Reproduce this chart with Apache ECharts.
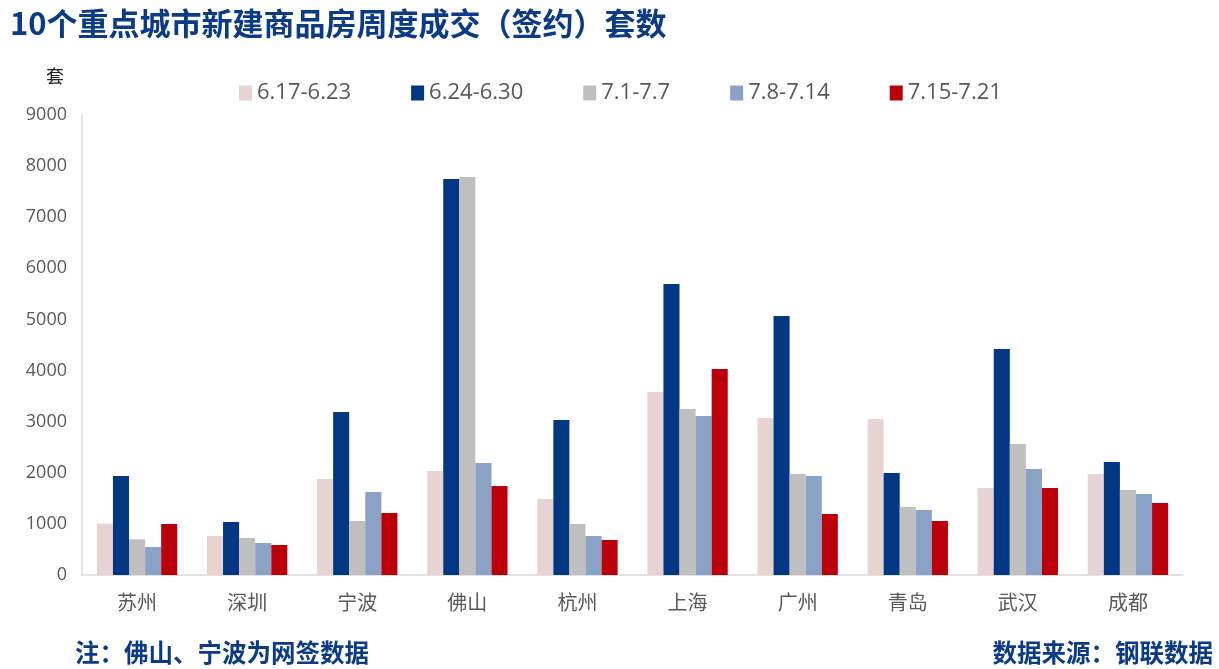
<!DOCTYPE html>
<html><head><meta charset="utf-8">
<script src="https://cdn.jsdelivr.net/npm/echarts@6/dist/echarts.min.js"></script>
<style>html,body{margin:0;padding:0;background:#fff}#c{width:1219px;height:669px}</style>
</head><body><div id="c"></div>
<script>
const categories = ['苏州','深圳','宁波','佛山','杭州','上海','广州','青岛','武汉','成都'];
const seriesNames = ['6.17-6.23','6.24-6.30','7.1-7.7','7.8-7.14','7.15-7.21'];
const w0617 = [1010, 763, 1878, 2035, 1487, 3581, 3072, 3053, 1703, 1976];
const w0624 = [1937, 1037, 3190, 7750, 3033, 5695, 5068, 1996, 4423, 2211];
const w0701 = [698, 724, 1057, 7789, 998, 3249, 1976, 1331, 2564, 1663];
const w0708 = [548, 626, 1624, 2192, 763, 3112, 1937, 1272, 2074, 1585];
const w0715 = [998, 587, 1213, 1742, 685, 4031, 1194, 1057, 1703, 1409];
const yTicks = [0,1000,2000,3000,4000,5000,6000,7000,8000,9000];
const colors = ['#E8D3D3','#023883','#BFBFBF','#8AA2C5','#BC000B'];
const dataSets = [w0617,w0624,w0701,w0708,w0715];

const chart = echarts.init(document.getElementById('c'));
chart.setOption({
  animation:false,
  backgroundColor:'#fff',
  title:{text:'10个重点城市新建商品房周度成交（签约）套数',left:5,top:3,
    textStyle:{fontFamily:'Noto Sans CJK SC',fontWeight:'bold',fontSize:31,color:'#0B3A86'}},
  legend:{data:seriesNames,left:234,top:77,itemWidth:13,itemHeight:15,itemGap:60,
    icon:'rect',textStyle:{fontFamily:'Open Sans',fontSize:22,color:'#595959'}},
  grid:{left:82,right:36,top:115,bottom:94},
  xAxis:{type:'category',data:categories,
    axisLine:{lineStyle:{color:'#D9D9D9',width:1.5}},axisTick:{show:false},
    axisLabel:{fontFamily:'Noto Sans CJK SC',fontSize:20,color:'#595959',margin:17}},
  yAxis:{type:'value',min:0,max:9000,interval:1000,
    name:'套',nameLocation:'end',nameGap:30,
    nameTextStyle:{fontFamily:'Noto Sans CJK SC',fontSize:18,color:'#222',padding:[0,54,0,0]},
    axisLine:{show:true,lineStyle:{color:'#D9D9D9',width:1.5}},axisTick:{show:false},
    splitLine:{show:false},
    axisLabel:{fontFamily:'Open Sans',fontSize:18,color:'#595959',margin:15,
      formatter:v=>yTicks.includes(v)?String(v):''}},
  series:seriesNames.map((n,i)=>({name:n,type:'bar',data:dataSets[i],
    itemStyle:{color:colors[i]},barGap:'0%',barCategoryGap:'27%'})),
  graphic:[
    {type:'text',left:75,top:640,style:{text:'注：佛山、宁波为网签数据',
      font:'bold 24.5px "Noto Sans CJK SC"',fill:'#0B3A86'}},
    {type:'text',right:6,top:640,style:{text:'数据来源：钢联数据',
      font:'bold 24.5px "Noto Sans CJK SC"',fill:'#0B3A86'}}
  ]
});
</script></body></html>
